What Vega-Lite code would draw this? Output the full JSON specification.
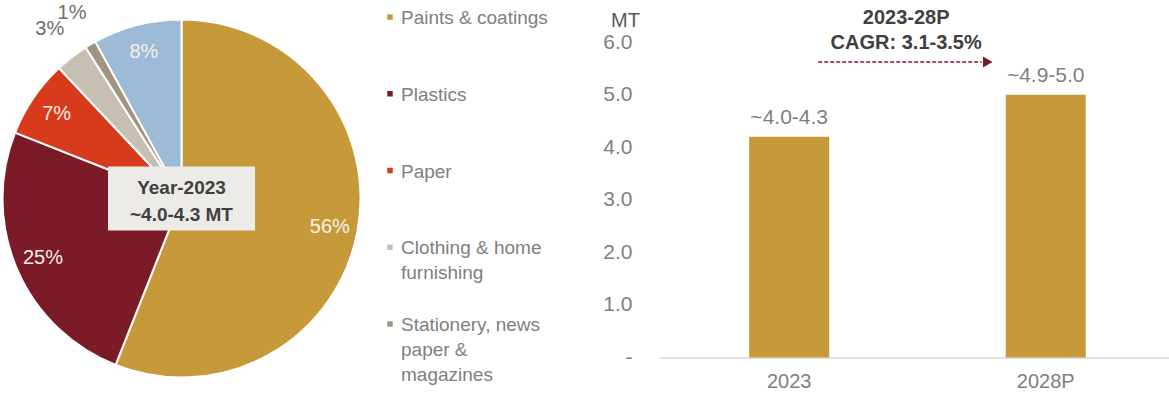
{
  "$schema": "https://vega.github.io/schema/vega-lite/v6.json",
  "padding": 0,
  "background": "white",
  "bounds": "flush",
  "spacing": 27,
  "config": {
    "font": "Liberation Sans",
    "view": {"stroke": null}
  },
  "datasets": {
    "segments": [
      {"segment": "Paints & coatings", "label": "Paints & coatings", "share": 0.56, "rank": 1},
      {"segment": "Plastics", "label": "Plastics", "share": 0.25, "rank": 2},
      {"segment": "Paper", "label": "Paper", "share": 0.07, "rank": 3},
      {"segment": "Clothing & home furnishing", "label": "Clothing & home\nfurnishing", "share": 0.03, "rank": 4},
      {"segment": "Stationery, news paper & magazines", "label": "Stationery, news\npaper &\nmagazines", "share": 0.01, "rank": 5},
      {"segment": "Others", "label": "Others", "share": 0.08, "rank": 6}
    ],
    "centre": [{"note": "Year-2023\n~4.0-4.3 MT"}],
    "volume": [
      {"year": "2023", "value": 4.2, "label": "~4.0-4.3"},
      {"year": "2028P", "value": 5.0, "label": "~4.9-5.0"}
    ],
    "growth": [{"from": "2023", "to": "2028P", "note": "2023-28P\nCAGR: 3.1-3.5%"}]
  },
  "hconcat": [
    {
      "width": 363,
      "height": 397,
      "layer": [
        {
          "data": {"name": "segments"},
          "mark": {"type": "arc", "outerRadius": 179, "stroke": "white", "strokeWidth": 2, "strokeJoin": "round"},
          "encoding": {
            "theta": {"field": "share", "type": "quantitative", "stack": true},
            "order": {"field": "rank", "type": "quantitative"},
            "color": {
              "field": "segment", "type": "nominal", "legend": null,
              "scale": {
                "domain": ["Paints & coatings", "Plastics", "Paper", "Clothing & home furnishing", "Stationery, news paper & magazines", "Others"],
                "range": ["#C69A3B", "#7A1B27", "#D83A1C", "#C7BFB1", "#A09483", "#9DBAD6"]
              }
            }
          }
        },
        {
          "data": {"name": "segments"},
          "mark": {"type": "text", "fontSize": 20},
          "encoding": {
            "theta": {"field": "share", "type": "quantitative", "stack": true},
            "order": {"field": "rank", "type": "quantitative"},
            "radius": {"field": "share", "type": "quantitative", "scale": {"type": "linear", "domain": [0.04, 0.05], "range": [215, 151], "clamp": true, "zero": false}},
            "color": {"condition": {"test": "datum.share < 0.05", "value": "#6E6E6E"}, "value": "#F7F1E4"},
            "text": {"field": "share", "type": "quantitative", "format": ".0%"}
          }
        },
        {
          "data": {"name": "centre"},
          "mark": {"type": "point", "shape": "M-1,-0.435L1,-0.435L1,0.435L-1,0.435Z", "size": 21609, "filled": true, "opacity": 1, "color": "#ECEBE8"},
          "encoding": {}
        },
        {
          "data": {"name": "centre"},
          "mark": {"type": "text", "fontSize": 19, "fontWeight": "bold", "color": "#404040", "lineBreak": "\n", "lineHeight": 27, "baseline": "middle", "align": "center", "dy": -11},
          "encoding": {"text": {"field": "note"}}
        }
      ]
    },
    {
      "width": 242,
      "height": 397,
      "data": {"name": "segments"},
      "transform": [{"filter": "datum.segment != 'Others'"}],
      "encoding": {
        "x": {"datum": 0, "type": "quantitative", "scale": {"domain": [0, 1]}, "axis": null},
        "y": {
          "field": "segment", "type": "nominal", "axis": null,
          "scale": {"type": "point", "domain": ["Paints & coatings", "Plastics", "Paper", "Clothing & home furnishing", "Stationery, news paper & magazines"], "padding": 0.586, "align": 0.189}
        }
      },
      "layer": [
        {
          "mark": {"type": "point", "shape": "square", "filled": true, "opacity": 1, "size": 30},
          "encoding": {
            "color": {
              "field": "segment", "type": "nominal", "legend": null,
              "scale": {
                "domain": ["Paints & coatings", "Plastics", "Paper", "Clothing & home furnishing", "Stationery, news paper & magazines", "Others"],
                "range": ["#C69A3B", "#7A1B27", "#D83A1C", "#C7BFB1", "#A09483", "#9DBAD6"]
              }
            }
          }
        },
        {
          "mark": {"type": "text", "align": "left", "baseline": "alphabetic", "dx": 11, "dy": 7, "fontSize": 19, "lineHeight": 25, "lineBreak": "\n", "color": "#808080"},
          "encoding": {
            "text": {"field": "label"}
          }
        }
      ]
    },
    {
      "width": 510,
      "height": 357.5,
      "layer": [
        {
          "data": {"name": "volume"},
          "mark": {"type": "bar", "color": "#C69A3B"},
          "encoding": {
            "x": {
              "field": "year", "type": "nominal",
              "scale": {"domain": ["2023", "2028P"], "paddingInner": 0.688, "paddingOuter": 0.338, "align": 0.52},
              "axis": {"title": null, "labelAngle": 0, "domainColor": "#D9D9D9", "domainWidth": 1.5, "ticks": false, "labelPadding": 14, "labelFontSize": 20, "labelColor": "#808080"}
            },
            "y": {
              "field": "value", "type": "quantitative",
              "scale": {"domain": [0, 6.8], "nice": false},
              "axis": {
                "values": [0, 1, 2, 3, 4, 5, 6],
                "labelExpr": "datum.value == 0 ? '-\u00a0\u00a0\u00a0' : format(datum.value, '.1f')",
                "grid": false, "domain": false, "ticks": false,
                "labelPadding": 27, "labelFontSize": 21, "labelColor": "#808080",
                "title": "MT", "titleAngle": 0, "titleX": -34, "titleY": 20,
                "titleAlign": "center", "titleBaseline": "middle",
                "titleFontSize": 20, "titleFontWeight": "normal", "titleColor": "#595959"
              }
            }
          }
        },
        {
          "data": {"name": "volume"},
          "mark": {"type": "text", "baseline": "bottom", "dy": -9, "fontSize": 21, "color": "#7F7F7F"},
          "encoding": {
            "x": {"field": "year", "type": "nominal"},
            "y": {"field": "value", "type": "quantitative"},
            "text": {"field": "label"}
          }
        },
        {
          "data": {"name": "growth"},
          "mark": {"type": "text", "fontWeight": "bold", "fontSize": 20, "color": "#404040", "lineBreak": "\n", "lineHeight": 25, "dx": 117, "baseline": "middle", "align": "center"},
          "encoding": {
            "x": {"field": "from", "type": "nominal"},
            "y": {"datum": 6.46},
            "text": {"field": "note"}
          }
        },
        {
          "data": {"name": "growth"},
          "mark": {"type": "rule", "color": "#8B1A2A", "strokeDash": [4, 2], "strokeWidth": 1.5, "xOffset": 29, "x2Offset": -64},
          "encoding": {
            "x": {"field": "from", "type": "nominal"},
            "x2": {"field": "to"},
            "y": {"datum": 5.62}
          }
        },
        {
          "data": {"name": "growth"},
          "mark": {"type": "point", "shape": "triangle-right", "filled": true, "opacity": 1, "color": "#7B1A27", "size": 120, "xOffset": -58},
          "encoding": {
            "x": {"field": "to", "type": "nominal"},
            "y": {"datum": 5.62}
          }
        }
      ]
    }
  ]
}
